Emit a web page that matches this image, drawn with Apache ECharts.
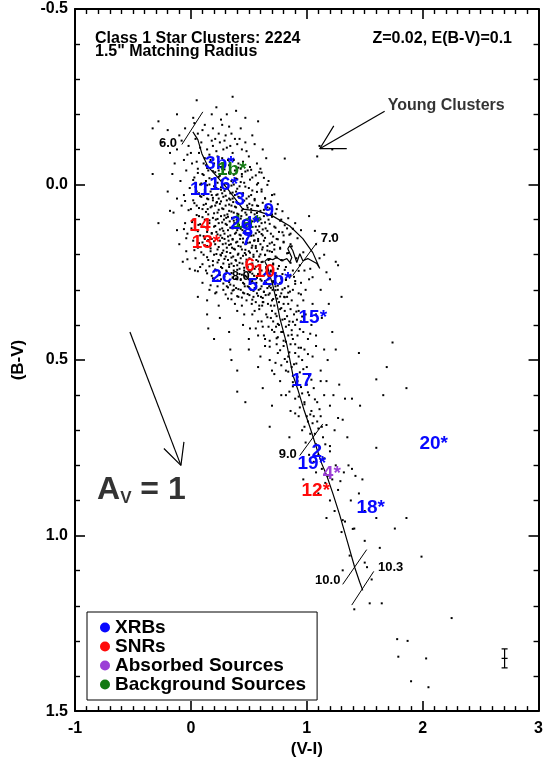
<!DOCTYPE html>
<html><head><meta charset="utf-8">
<script src="https://cdn.jsdelivr.net/npm/echarts@6/dist/echarts.min.js"></script>
<style>html,body{margin:0;padding:0;background:#fff;overflow:hidden}#c{width:546px;height:763px}</style>
</head><body><div id="c"></div>
<script>
// ---------- data (V-I, B-V) ----------
const xTickLabels = {"-1":"-1","0":"0","1":"1","2":"2","3":"3"};
const yTickLabels = {"-0.5":"-0.5","0":"0.0","0.5":"0.5","1":"1.0","1.5":"1.5"};

const clusterPts = [
[-0.33,-0.16],[-0.28,-0.18],[-0.12,-0.2],[0.05,-0.24],[0.22,-0.22],[0.31,-0.2],[0.36,-0.25],[0.47,-0.19],[0.12,-0.17],[-0.05,-0.16],[0.27,-0.17],[0.43,-0.16],[0.58,-0.18],[0.18,-0.2],[0.33,-0.165],[-0.2,-0.155],[0.02,-0.19],[0.39,-0.21],
[-0.25,-0.12],[-0.18,-0.09],[-0.1,-0.14],[-0.06,-0.07],[-0.02,-0.11],[0.01,-0.06],[0.04,-0.13],[0.07,-0.09],[0.09,-0.12],[0.11,-0.06],[0.14,-0.1],[0.15,-0.14],[0.17,-0.07],[0.19,-0.11],[0.21,-0.13],[0.23,-0.08],[0.25,-0.12],[0.26,-0.05],[0.28,-0.1],[0.3,-0.14],[0.32,-0.07],[0.34,-0.11],[0.36,-0.09],[0.38,-0.13],[0.41,-0.06],[0.44,-0.1],[0.47,-0.12],[0.5,-0.08],[0.53,-0.14],[0.57,-0.06],[0.62,-0.1],[0.13,-0.055],[0.06,-0.145],[-0.14,-0.06],[0.2,-0.06],[0.35,-0.145],[0.45,-0.065],[0.0,-0.09],[0.16,-0.085],[0.29,-0.125],
[-0.2,0.02],[-0.16,-0.03],[-0.12,0.04],[-0.09,-0.01],[-0.06,0.03],[-0.04,-0.04],[-0.01,0.01],[0.02,0.045],[0.03,-0.02],[0.05,0.02],[0.06,-0.045],[0.08,0.0],[0.09,0.035],[0.1,-0.03],[0.12,0.015],[0.13,-0.01],[0.14,0.04],[0.15,-0.04],[0.17,0.02],[0.18,-0.015],[0.19,0.045],[0.2,0.005],[0.21,-0.035],[0.22,0.03],[0.23,-0.005],[0.24,0.04],[0.25,-0.025],[0.26,0.015],[0.27,-0.045],[0.28,0.035],[0.29,0.0],[0.3,-0.02],[0.31,0.045],[0.32,0.01],[0.33,-0.035],[0.34,0.025],[0.35,-0.01],[0.36,0.04],[0.37,0.0],[0.38,-0.04],[0.39,0.02],[0.4,-0.015],[0.41,0.035],[0.42,0.005],[0.44,-0.03],[0.45,0.025],[0.46,-0.005],[0.48,0.04],[0.49,-0.04],[0.5,0.01],[0.52,0.03],[0.53,-0.02],[0.55,0.045],[0.57,0.0],[0.59,-0.035],[0.61,0.02],[0.64,0.04],[0.67,-0.01],[0.7,0.03],[0.11,0.03],[0.16,0.0],[0.07,0.025],[0.04,-0.005],[0.27,0.025],[0.33,0.04],[0.43,-0.045],[0.18,0.03],[0.24,-0.04],[0.38,0.03],[0.22,0.01],
[-0.15,0.08],[-0.12,0.13],[-0.08,0.06],[-0.05,0.11],[-0.03,0.14],[0.0,0.07],[0.02,0.1],[0.04,0.13],[0.05,0.06],[0.07,0.09],[0.08,0.145],[0.1,0.07],[0.11,0.12],[0.12,0.1],[0.13,0.055],[0.14,0.135],[0.15,0.085],[0.16,0.11],[0.17,0.065],[0.18,0.14],[0.19,0.095],[0.2,0.12],[0.21,0.06],[0.215,0.1],[0.22,0.135],[0.23,0.08],[0.24,0.11],[0.25,0.055],[0.255,0.145],[0.26,0.09],[0.27,0.125],[0.28,0.07],[0.285,0.1],[0.29,0.14],[0.3,0.06],[0.31,0.115],[0.315,0.085],[0.32,0.13],[0.33,0.075],[0.335,0.105],[0.34,0.145],[0.35,0.06],[0.355,0.095],[0.36,0.125],[0.37,0.08],[0.375,0.11],[0.38,0.14],[0.39,0.065],[0.395,0.1],[0.4,0.13],[0.41,0.085],[0.415,0.115],[0.42,0.055],[0.43,0.145],[0.435,0.09],[0.44,0.12],[0.45,0.07],[0.455,0.105],[0.46,0.135],[0.47,0.08],[0.48,0.115],[0.485,0.06],[0.49,0.14],[0.5,0.095],[0.51,0.125],[0.52,0.07],[0.53,0.105],[0.54,0.145],[0.55,0.085],[0.56,0.12],[0.57,0.06],[0.58,0.1],[0.59,0.135],[0.6,0.075],[0.61,0.11],[0.62,0.145],[0.63,0.09],[0.645,0.125],[0.66,0.065],[0.67,0.1],[0.69,0.14],[0.7,0.085],[0.72,0.12],[0.74,0.07],[0.76,0.135],[0.78,0.1],[0.8,0.145],[0.83,0.125],[0.86,0.14],[0.9,0.11],[0.95,0.13],[1.02,0.09],[0.065,0.115],[0.145,0.07],[0.225,0.05],[0.305,0.095],[0.365,0.05],[0.445,0.13],[0.505,0.055],[0.575,0.13],[0.005,0.125],
[-0.1,0.17],[-0.07,0.22],[-0.04,0.19],[-0.01,0.24],[0.02,0.16],[0.04,0.21],[0.06,0.18],[0.08,0.235],[0.1,0.165],[0.11,0.2],[0.13,0.245],[0.14,0.175],[0.15,0.215],[0.17,0.19],[0.18,0.155],[0.19,0.23],[0.2,0.2],[0.21,0.17],[0.22,0.245],[0.23,0.185],[0.24,0.215],[0.25,0.16],[0.26,0.235],[0.27,0.195],[0.275,0.17],[0.28,0.225],[0.29,0.155],[0.3,0.205],[0.305,0.245],[0.31,0.18],[0.32,0.215],[0.325,0.16],[0.33,0.235],[0.34,0.195],[0.345,0.17],[0.35,0.225],[0.36,0.155],[0.365,0.205],[0.37,0.245],[0.38,0.185],[0.385,0.215],[0.39,0.165],[0.4,0.23],[0.405,0.2],[0.41,0.175],[0.42,0.24],[0.425,0.155],[0.43,0.21],[0.44,0.185],[0.445,0.225],[0.45,0.165],[0.46,0.245],[0.465,0.195],[0.47,0.17],[0.48,0.22],[0.485,0.155],[0.49,0.235],[0.5,0.19],[0.505,0.21],[0.51,0.165],[0.52,0.245],[0.525,0.18],[0.53,0.225],[0.54,0.2],[0.545,0.16],[0.55,0.24],[0.56,0.175],[0.565,0.215],[0.57,0.19],[0.58,0.155],[0.585,0.23],[0.59,0.205],[0.6,0.17],[0.61,0.245],[0.615,0.185],[0.62,0.22],[0.63,0.16],[0.64,0.2],[0.65,0.235],[0.66,0.175],[0.67,0.215],[0.68,0.19],[0.69,0.245],[0.7,0.165],[0.71,0.225],[0.72,0.185],[0.73,0.205],[0.74,0.155],[0.75,0.24],[0.77,0.18],[0.78,0.215],[0.8,0.165],[0.82,0.235],[0.84,0.195],[0.86,0.17],[0.88,0.245],[0.91,0.21],[0.94,0.23],[0.98,0.245],[1.03,0.24],[1.08,0.17],[1.15,0.2],[1.25,0.22],[0.035,0.245],[0.12,0.155],[0.255,0.2],[0.355,0.18],[0.475,0.2],
[0.1,0.28],[0.14,0.33],[0.18,0.26],[0.21,0.31],[0.24,0.345],[0.26,0.27],[0.28,0.3],[0.3,0.255],[0.32,0.325],[0.34,0.285],[0.35,0.31],[0.36,0.265],[0.38,0.34],[0.39,0.295],[0.4,0.27],[0.41,0.32],[0.42,0.255],[0.43,0.3],[0.44,0.345],[0.45,0.28],[0.46,0.31],[0.47,0.26],[0.48,0.33],[0.49,0.29],[0.5,0.27],[0.505,0.315],[0.51,0.25],[0.52,0.3],[0.525,0.34],[0.53,0.275],[0.54,0.32],[0.545,0.26],[0.55,0.295],[0.56,0.335],[0.565,0.28],[0.57,0.31],[0.58,0.255],[0.585,0.3],[0.59,0.345],[0.6,0.27],[0.605,0.32],[0.61,0.29],[0.62,0.26],[0.625,0.335],[0.63,0.305],[0.64,0.275],[0.645,0.315],[0.65,0.25],[0.66,0.295],[0.665,0.34],[0.67,0.27],[0.68,0.31],[0.685,0.285],[0.69,0.26],[0.7,0.33],[0.705,0.3],[0.71,0.275],[0.72,0.345],[0.73,0.29],[0.735,0.315],[0.74,0.26],[0.75,0.3],[0.76,0.335],[0.77,0.28],[0.78,0.31],[0.79,0.255],[0.8,0.34],[0.81,0.295],[0.82,0.27],[0.83,0.32],[0.84,0.29],[0.86,0.26],[0.87,0.33],[0.88,0.3],[0.9,0.275],[0.92,0.345],[0.93,0.31],[0.95,0.28],[0.97,0.33],[0.99,0.3],[1.02,0.27],[1.05,0.34],[1.12,0.3],[1.2,0.27],[1.3,0.32],[0.23,0.29],[0.31,0.29],[0.37,0.3],[0.465,0.29],[0.555,0.27],[0.615,0.345],[0.675,0.29],[0.745,0.325],[0.805,0.32],[0.855,0.305],[0.16,0.3],[0.06,0.32],
[0.25,0.38],[0.33,0.42],[0.4,0.36],[0.45,0.4],[0.5,0.44],[0.53,0.37],[0.56,0.41],[0.59,0.355],[0.61,0.39],[0.63,0.43],[0.65,0.37],[0.67,0.405],[0.68,0.445],[0.7,0.36],[0.71,0.39],[0.72,0.42],[0.74,0.375],[0.75,0.435],[0.76,0.4],[0.77,0.355],[0.78,0.42],[0.79,0.385],[0.8,0.445],[0.81,0.36],[0.82,0.405],[0.83,0.375],[0.84,0.43],[0.85,0.39],[0.86,0.355],[0.87,0.415],[0.88,0.44],[0.89,0.37],[0.9,0.4],[0.92,0.43],[0.93,0.36],[0.95,0.39],[0.97,0.42],[0.99,0.37],[1.01,0.44],[1.04,0.4],[1.08,0.43],[1.13,0.38],[1.22,0.42],[0.15,0.41],[0.2,0.44],[0.58,0.43],[0.69,0.38],[0.845,0.4],[0.735,0.405],[0.915,0.385],
[0.35,0.5],[0.5,0.47],[0.58,0.52],[0.64,0.46],[0.68,0.5],[0.72,0.54],[0.75,0.48],[0.78,0.515],[0.8,0.46],[0.82,0.53],[0.84,0.49],[0.86,0.455],[0.87,0.52],[0.88,0.545],[0.9,0.48],[0.91,0.51],[0.93,0.465],[0.94,0.535],[0.96,0.5],[0.98,0.47],[1.0,0.52],[1.02,0.545],[1.05,0.49],[1.08,0.46],[1.12,0.53],[1.18,0.5],[1.25,0.47],[0.6,0.49],[0.74,0.455],[0.83,0.505],[0.95,0.465],[0.4,0.53],[1.45,0.48],
[0.47,0.62],[0.62,0.58],[0.7,0.63],[0.77,0.56],[0.82,0.6],[0.86,0.645],[0.88,0.575],[0.9,0.61],[0.92,0.56],[0.94,0.635],[0.96,0.595],[0.98,0.62],[1.0,0.57],[1.02,0.6],[1.04,0.645],[1.06,0.58],[1.09,0.62],[1.12,0.56],[1.15,0.6],[1.2,0.63],[1.28,0.57],[1.33,0.61],[1.6,0.555],[1.69,0.52],[1.74,0.45],[1.86,0.58],[1.66,0.6],[1.46,0.63],[1.39,0.61],
[0.68,0.69],[0.85,0.72],[0.93,0.66],[0.96,0.7],[0.99,0.735],[1.01,0.675],[1.03,0.71],[1.06,0.66],[1.08,0.74],[1.1,0.695],[1.12,0.66],[1.14,0.72],[1.17,0.685],[1.2,0.745],[1.24,0.7],[1.27,0.665],[1.31,0.67],[1.35,0.72],[1.6,0.75],[1.0,0.66],[1.05,0.68],[1.09,0.675],
[1.02,0.77],[1.06,0.79],[1.1,0.77],[1.13,0.81],[1.15,0.78],[1.18,0.83],[1.2,0.76],[1.22,0.84],[1.25,0.8],[1.29,0.845],[1.32,0.82],[1.36,0.8],[1.39,0.81],[1.48,0.84],[1.42,0.83],[0.97,0.84],[1.08,0.82],[1.16,0.85],
[1.1,0.88],[1.2,0.9],[1.24,0.93],[1.27,0.87],[1.33,0.96],[1.38,0.9],[1.41,0.98],[1.5,0.93],[1.6,0.95],[1.76,0.98],[1.86,0.95],[1.3,0.99],[1.45,0.88],[1.17,0.95],
[1.31,0.956],[1.397,0.981],[1.5,1.015],[1.63,1.035],[1.37,1.057],[1.31,1.099],[1.5,1.077],[1.52,1.09],[1.99,1.06],[1.56,1.125],[1.543,1.193],[1.647,1.193],[2.25,1.235],[1.78,1.295],[1.87,1.3],[1.79,1.345],[2.03,1.35],[1.9,1.415],[2.05,1.432],[1.41,1.21],
[-0.33,-0.03],[-0.18,0.075],[-0.28,0.11],[0.14,0.37],[0.4,0.59],[0.34,0.47],[1.09,-0.08],[1.22,-0.1],[0.81,-0.074],[1.11,-0.11],[1.07,0.132],[1.22,0.146],[1.11,0.21],[1.17,0.25],[1.27,0.23],[1.05,0.264]
];

const clusterPtsCore = [
[0.14,-0.047],[0.29,-0.043],[0.41,-0.048],[0.52,-0.042],[0.06,-0.033],[0.19,-0.038],[0.33,-0.032],[0.47,-0.037],[0.61,-0.034],
[0.11,-0.027],[0.24,-0.022],[0.37,-0.028],[0.44,-0.023],[0.56,-0.026],[0.02,-0.013],[0.16,-0.018],[0.27,-0.012],[0.39,-0.017],[0.51,-0.014],[0.63,-0.019],
[0.09,-0.003],[0.21,-0.008],[0.31,-0.002],[0.43,-0.007],[0.58,-0.004],[0.04,0.007],[0.14,0.002],[0.26,0.008],[0.35,0.003],[0.47,0.006],[0.66,0.001],
[0.18,0.013],[0.29,0.018],[0.4,0.012],[0.53,0.017],[0.61,0.014],[0.01,0.027],[0.12,0.022],[0.23,0.028],[0.36,0.023],[0.45,0.026],[0.57,0.021],[0.72,0.028],
[0.08,0.033],[0.19,0.038],[0.3,0.032],[0.42,0.037],[0.5,0.034],[0.64,0.039],[-0.05,0.047],[0.15,0.042],[0.26,0.048],[0.34,0.043],[0.46,0.046],[0.55,0.041],[0.69,0.048],
[0.03,0.053],[0.11,0.058],[0.22,0.052],[0.33,0.057],[0.41,0.054],[0.53,0.059],[0.62,0.052],[0.75,0.056],[0.07,0.067],[0.18,0.062],[0.27,0.068],[0.38,0.063],[0.49,0.066],[0.58,0.061],[0.68,0.068],
[-0.02,0.073],[0.13,0.078],[0.24,0.072],[0.35,0.077],[0.44,0.074],[0.52,0.079],[0.63,0.072],[0.79,0.076],[0.05,0.087],[0.2,0.082],[0.29,0.088],[0.4,0.083],[0.48,0.086],[0.57,0.081],[0.66,0.088],[0.73,0.083],
[0.1,0.093],[0.23,0.098],[0.32,0.092],[0.43,0.097],[0.51,0.094],[0.6,0.099],[0.7,0.092],[0.84,0.096],[0.01,0.107],[0.16,0.102],[0.27,0.108],[0.37,0.103],[0.46,0.106],[0.55,0.101],[0.64,0.108],[0.77,0.103],
[0.08,0.113],[0.21,0.118],[0.3,0.112],[0.41,0.117],[0.5,0.114],[0.59,0.119],[0.68,0.112],[0.81,0.116],[-0.06,0.127],[0.13,0.122],[0.25,0.128],[0.34,0.123],[0.43,0.126],[0.53,0.121],[0.62,0.128],[0.73,0.123],[0.88,0.126],
[0.06,0.133],[0.18,0.138],[0.28,0.132],[0.39,0.137],[0.47,0.134],[0.56,0.139],[0.66,0.132],[0.79,0.136],[0.11,0.147],[0.23,0.142],[0.32,0.148],[0.42,0.143],[0.52,0.146],[0.61,0.141],[0.71,0.148],[0.85,0.143],
[-0.04,0.153],[0.15,0.158],[0.27,0.152],[0.36,0.157],[0.45,0.154],[0.55,0.159],[0.64,0.152],[0.75,0.156],[0.92,0.153],[0.07,0.167],[0.2,0.162],[0.3,0.168],[0.4,0.163],[0.49,0.166],[0.58,0.161],[0.68,0.168],[0.8,0.163],
[0.12,0.173],[0.24,0.178],[0.33,0.172],[0.43,0.177],[0.53,0.174],[0.62,0.179],[0.72,0.172],[0.87,0.176],[0.03,0.187],[0.17,0.182],[0.28,0.188],[0.37,0.183],[0.47,0.186],[0.56,0.181],[0.66,0.188],[0.77,0.183],
[0.09,0.193],[0.22,0.198],[0.31,0.192],[0.41,0.197],[0.51,0.194],[0.6,0.199],[0.7,0.192],[0.83,0.196],[0.97,0.193],[0.14,0.207],[0.26,0.202],[0.35,0.208],[0.45,0.203],[0.54,0.206],[0.64,0.201],[0.74,0.208],
[-0.03,0.213],[0.19,0.218],[0.29,0.212],[0.39,0.217],[0.48,0.214],[0.58,0.219],[0.68,0.212],[0.79,0.216],[0.1,0.227],[0.23,0.222],[0.33,0.228],[0.42,0.223],[0.52,0.226],[0.61,0.221],[0.71,0.228],[0.86,0.223],
[0.16,0.233],[0.27,0.238],[0.37,0.232],[0.46,0.237],[0.56,0.234],[0.65,0.239],[0.76,0.232],[0.06,0.247],[0.21,0.242],[0.31,0.248],[0.4,0.243],[0.5,0.246],[0.59,0.241],[0.69,0.248],[0.81,0.243],[0.93,0.246],
[0.14,0.253],[0.25,0.258],[0.35,0.252],[0.44,0.257],[0.53,0.254],[0.63,0.259],[0.73,0.252],[0.19,0.267],[0.29,0.262],[0.39,0.268],[0.48,0.263],[0.57,0.266],[0.67,0.261],[0.78,0.268],[0.89,0.263],
[0.23,0.273],[0.33,0.278],[0.43,0.272],[0.52,0.277],[0.61,0.274],[0.71,0.279],[0.82,0.272],[0.17,0.287],[0.28,0.282],[0.37,0.288],[0.46,0.283],[0.56,0.286],[0.65,0.281],[0.75,0.288],[0.9,0.283],
[0.32,0.293],[0.41,0.298],[0.5,0.292],[0.6,0.297],[0.69,0.294],[0.79,0.299],[0.22,0.307],[0.36,0.302],[0.45,0.308],[0.54,0.303],[0.63,0.306],[0.73,0.301],[0.84,0.308],
[0.3,0.313],[0.4,0.318],[0.49,0.312],[0.58,0.317],[0.67,0.314],[0.77,0.319],[0.95,0.313],[0.35,0.327],[0.44,0.322],[0.53,0.328],[0.62,0.323],[0.71,0.326],[0.81,0.321]
];

const clusterPtsTail = [
[0.62,0.335],[0.69,0.345],[0.78,0.352],[0.84,0.34],[0.91,0.362],[0.73,0.368],[0.66,0.378],[0.81,0.383],[0.88,0.391],[0.96,0.376],[0.75,0.397],[0.62,0.405],[0.7,0.414],[0.79,0.42],[0.87,0.428],[0.94,0.412],[1.03,0.425],[0.74,0.438],[0.82,0.448],[0.9,0.455],[0.68,0.462],[0.77,0.472],[0.85,0.478],[0.93,0.49],[1.01,0.483],[0.81,0.497],[0.73,0.508],[0.89,0.512],[0.97,0.526],[0.84,0.533],[0.92,0.548],[1.04,0.556],[0.88,0.563],[0.95,0.577],[0.85,0.59],[1.01,0.592],[0.93,0.604],[1.07,0.612],[0.98,0.626],[1.11,0.64],[0.9,0.652],[1.03,0.655],[1.13,0.69],[0.98,0.69],[1.07,0.71],[1.16,0.74],[1.11,0.75],[0.55,0.36],[0.58,0.39],[0.51,0.41],[0.46,0.37],[0.64,0.44],[0.7,0.53],[0.78,0.6],[1.17,0.56],[1.23,0.6],[1.15,0.47],[1.08,0.37],[1.19,0.34],
[0.03,-0.175],[0.1,-0.155],[0.19,-0.16],[0.26,-0.185],[-0.08,-0.125],[0.24,-0.145],[0.4,-0.115],[0.08,-0.105],[0.12,-0.075],[0.18,-0.125],[0.22,-0.095],[0.27,-0.075],[0.31,-0.105],[0.37,-0.07],[0.42,-0.13],[0.48,-0.095],[0.55,-0.115],[0.05,-0.065],[-0.03,-0.085],[0.33,-0.055],[0.6,-0.045],[0.65,-0.075],[0.51,-0.05],[-0.12,-0.1]
];

// stellar-population model track (Z=0.02, E(B-V)=0.1)
const trackVI = [0.017,0.06,0.095,0.147,0.224,0.319,0.397,0.448,0.569,0.707,0.853,0.966,1.052,1.112,1.086,1.009,0.966,0.94,0.914,0.879,0.853,0.836,0.871,0.853,0.828,0.784,0.741,0.707,0.664,0.638,0.664,0.681,0.707,0.741,0.767,0.828,0.879,0.922,0.974,1.026,1.086,1.129,1.172,1.224,1.284,1.353,1.414,1.457,1.483];
const trackBV = [-0.15,-0.128,-0.088,-0.051,-0.023,0.013,0.047,0.07,0.075,0.09,0.118,0.154,0.194,0.239,0.225,0.211,0.217,0.197,0.222,0.188,0.174,0.183,0.208,0.222,0.211,0.217,0.208,0.214,0.211,0.219,0.236,0.259,0.287,0.335,0.38,0.456,0.541,0.583,0.64,0.69,0.752,0.795,0.829,0.879,0.941,1.02,1.091,1.133,1.156];

// log(age) markers: [x1,y1,x2,y2]
const ageTicks = [[-0.078,-0.114,0.103,-0.207],[0.879,0.259,1.086,0.166],[0.94,0.772,1.138,0.682],[1.31,1.139,1.517,1.04],[1.388,1.198,1.578,1.102]];
const ageLabelNames = ["6.0","7.0","8.0","9.0","10.0","10.3"];
const ageLabelPos = [[-0.198,-0.116],[1.198,0.153],[0.43,0.262],[0.836,0.769],[1.181,1.128],[1.724,1.091]];

// X-ray source labels
const xrbNames = ["3b*","16*","11","3","9","2d*","8","7","2c","5","2b*","15*","17","2","19*","18*","20*"];
const xrbPos = [[0.25,-0.06],[0.284,0.002],[0.078,0.016],[0.422,0.042],[0.672,0.075],[0.466,0.112],[0.49,0.132],[0.485,0.158],[0.267,0.262],[0.534,0.287],[0.741,0.27],[1.052,0.38],[0.957,0.558],[1.086,0.761],[1.043,0.795],[1.552,0.922],[2.095,0.738]];
const snrNames = ["14","13*","6","10","12*"];
const snrPos = [[0.078,0.118],[0.13,0.166],[0.509,0.231],[0.638,0.248],[1.078,0.871]];
const absNames = ["4*"];
const absPos = [[1.216,0.823]];
const bkgNames = ["1b*","1a*"];
const bkgPos = [[0.353,-0.043],[0.48,0.11]];

// annotations
const youngArrow = [[1.672,-0.209],[1.112,-0.102]];
const youngHead = [[1.233,-0.167],[1.112,-0.102],[1.345,-0.102]];
const youngText = [1.698,-0.226];
const avArrow = [[-0.526,0.42],[-0.086,0.8]];
const avHead = [[-0.233,0.752],[-0.086,0.8],[-0.06,0.733]];
const avText = [-0.81,0.87];
const errCenter = [2.707,1.35];
const errBV = 0.027;
const errVI = 0.026;

// ---------- chart ----------
const FF = '"Liberation Sans", Arial, Helvetica, sans-serif';
const chart = echarts.init(document.getElementById('c'), null, {renderer:'canvas'});

function seg(pts, z, w){
  return {type:'line', data:pts, symbol:'none', silent:true, z:z||3, animation:false,
    lineStyle:{color:'#000', width:w||1}, xAxisIndex:0, yAxisIndex:0};
}
function labelSeries(name, names, pos, color, size, z){
  return {type:'scatter', name:name, symbolSize:0, silent:true, z:z||5, animation:false,
    itemStyle:{color:color, opacity:1},
    data: names.map((n,i)=>({name:n, value:pos[i]})),
    label:{show:true, position:'inside', formatter:'{b}', color:color, opacity:1, fontSize:size, fontWeight:'bold', fontFamily:FF}};
}

const series = [];
series.push({type:'scatter', name:'clusters', data:clusterPts.concat(clusterPtsCore, clusterPtsTail), symbol:'rect', symbolSize:[2,2], silent:true, animation:false, z:1,
  large:false, itemStyle:{color:'#000', opacity:1}});
series.push(seg(trackVI.map((v,i)=>[v,trackBV[i]]), 3, 1.2));
ageTicks.forEach(t=>series.push(seg([[t[0],t[1]],[t[2],t[3]]], 3, 1)));
series.push(seg(youngArrow, 3, 1.2));
series.push(seg(youngHead, 3, 1.2));
series.push(seg(avArrow, 3, 1.2));
series.push(seg(avHead, 3, 1.2));
// error bar
const ex=errCenter[0], ey=errCenter[1];
series.push(seg([[ex,ey-errBV],[ex,ey+errBV]],3,1.2));
series.push(seg([[ex-errVI,ey-errBV],[ex+errVI,ey-errBV]],3,1.2));
series.push(seg([[ex-errVI,ey+errBV],[ex+errVI,ey+errBV]],3,1.2));
series.push(seg([[ex-errVI,ey],[ex+errVI,ey]],3,1.2));

series.push(labelSeries('Background Sources', [bkgNames[1]], [bkgPos[1]], '#137a13', 19, 4));
series.push(labelSeries('XRBs', xrbNames, xrbPos, '#0808ff', 19, 5));
series.push(labelSeries('SNRs', snrNames, snrPos, '#ff0a0a', 19, 6));
series.push(labelSeries('Absorbed Sources', absNames, absPos, '#9b3fd6', 19, 6));
series.push(labelSeries('Background Sources', [bkgNames[0]], [bkgPos[0]], '#137a13', 19, 6));
series.push(labelSeries('ages', ageLabelNames, ageLabelPos, '#000', 13, 7));
// Young Clusters text
series.push({type:'scatter', symbolSize:0, silent:true, animation:false, z:7,
  data:[{name:'Young Clusters', value:youngText}],
  label:{show:true, position:'right', distance:0, formatter:'{b}', color:'#000', fontSize:16, fontWeight:'bold', fontFamily:FF}});
// A_V = 1
series.push({type:'scatter', symbolSize:0, silent:true, animation:false, z:7,
  data:[{name:'Av', value:avText}],
  label:{show:true, position:'right', distance:0, formatter:'{a|A}{s|V}{a| = 1}', color:'#000', fontFamily:FF,
    rich:{a:{fontSize:32, fontWeight:'bold', fontFamily:FF, color:'#000', lineHeight:34},
          s:{fontSize:17, fontWeight:'bold', fontFamily:FF, color:'#000', lineHeight:17, verticalAlign:'bottom'}}}});

const axisCommon = {
  axisLine:{show:true, onZero:false, lineStyle:{color:'#000', width:2}},
  axisTick:{show:true, inside:true, length:10, lineStyle:{color:'#000', width:1.6}},
  splitLine:{show:false}, minorSplitLine:{show:false}
};
const minorX = {minorTick:{show:true, splitNumber:10, length:5, lineStyle:{color:'#000', width:1.4}}};
const minorY = {minorTick:{show:true, splitNumber:5, length:5, lineStyle:{color:'#000', width:1.4}}};

chart.setOption({
  animation:false,
  backgroundColor:'#fff',
  grid:{left:75, right:7, top:9, bottom:43, containLabel:false},
  xAxis:[
    Object.assign({type:'value', position:'bottom', min:-1, max:3, interval:1,
      name:'(V-I)', nameLocation:'middle', nameGap:24,
      nameTextStyle:{fontSize:17, fontWeight:'bold', color:'#000', fontFamily:FF},
      axisLabel:{show:true, fontSize:16, fontWeight:'bold', color:'#000', fontFamily:FF, margin:9,
        formatter:v=>xTickLabels[String(v)] ?? ''}}, axisCommon, minorX),
    Object.assign({type:'value', position:'top', min:-1, max:3, interval:1, axisLabel:{show:false}}, axisCommon, minorX)
  ],
  yAxis:[
    Object.assign({type:'value', position:'left', inverse:true, min:-0.5, max:1.5, interval:0.5,
      name:'(B-V)', nameLocation:'middle', nameGap:48,
      nameTextStyle:{fontSize:17, fontWeight:'bold', color:'#000', fontFamily:FF},
      axisLabel:{show:true, fontSize:16, fontWeight:'bold', color:'#000', fontFamily:FF, margin:7,
        formatter:v=>yTickLabels[String(Math.round(v*10)/10)] ?? ''}}, axisCommon, minorY),
    Object.assign({type:'value', position:'right', inverse:true, min:-0.5, max:1.5, interval:0.5, axisLabel:{show:false}}, axisCommon, minorY)
  ],
  legend:{show:true, orient:'vertical', left:87, top:612, padding:[6,11,6,13], itemWidth:10, itemHeight:10, itemGap:0, itemTextGap:9,
    borderColor:'#000', borderWidth:1, backgroundColor:'#fff', selectedMode:false,
    textStyle:{fontSize:19, fontWeight:'bold', color:'#000', fontFamily:FF, lineHeight:19},
    data:[{name:'XRBs', icon:'circle'},{name:'SNRs', icon:'circle'},{name:'Absorbed Sources', icon:'circle'},{name:'Background Sources', icon:'circle'}]},
  graphic:[
    {type:'text', left:95, top:31, style:{text:'Class 1 Star Clusters: 2224', font:'bold 16px '+FF, fill:'#000'}},
    {type:'text', left:95, top:44, style:{text:'1.5" Matching Radius', font:'bold 16px '+FF, fill:'#000'}},
    {type:'text', right:34, top:31, style:{text:'Z=0.02, E(B-V)=0.1', font:'bold 16px '+FF, fill:'#000'}}
  ],
  series:series
});
</script></body></html>
